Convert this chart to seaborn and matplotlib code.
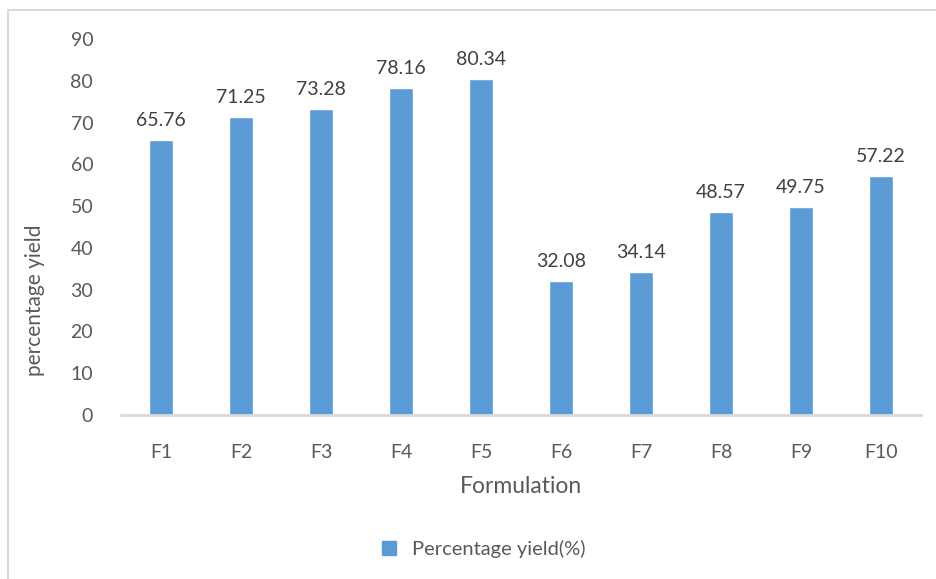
import matplotlib
matplotlib.use("Agg")
import matplotlib.pyplot as plt
import seaborn as sns
import pandas as pd

# data
formulations = ["F1", "F2", "F3", "F4", "F5", "F6", "F7", "F8", "F9", "F10"]
yield_pct = [65.76, 71.25, 73.28, 78.16, 80.34, 32.08, 34.14, 48.57, 49.75, 57.22]
series_name = "Percentage yield(%)"

df = pd.DataFrame({"Formulation": formulations, "yield": yield_pct})

sns.set_style("white")
plt.rcParams["font.family"] = ["Lato", "DejaVu Sans"]
text_color = "#595959"
bar_color = "#5B9BD5"

fig = plt.figure(figsize=(9.36, 5.79), dpi=100)
ax = fig.add_axes([121 / 936, 1 - 415 / 579, 800 / 936, 376 / 579])

sns.barplot(data=df, x="Formulation", y="yield", color=bar_color,
            width=0.31, saturation=1, ax=ax, label=series_name)

ax.bar_label(ax.containers[0], labels=[f"{v:.2f}" for v in yield_pct],
             padding=8, fontsize=14, color="#404040")

ax.set_ylim(0, 90)
ax.set_yticks(range(0, 91, 10))
ax.tick_params(axis="both", length=0, labelsize=14, labelcolor=text_color)
ax.tick_params(axis="y", pad=20)
ax.tick_params(axis="x", pad=21)

ax.set_xlabel("Formulation", fontsize=16.5, color=text_color, labelpad=11)
ax.set_ylabel("percentage yield", fontsize=15, color=text_color)
ax.yaxis.set_label_coords(-76 / 800, (415 - 300) / 376)

sns.despine(ax=ax, left=True)
ax.spines["bottom"].set_color("#D9D9D9")
ax.spines["bottom"].set_linewidth(2)

# chart area border (cropped on right/bottom in the reference)
fig.patches.append(plt.Rectangle((8 / 936, -0.1), 1.2, 1 - 10 / 579 + 0.1,
                                 transform=fig.transFigure, fill=False,
                                 edgecolor="#D9D9D9", linewidth=1.5))

if ax.legend_:
    ax.legend_.remove()
fig.legend(handles=[plt.Rectangle((0, 0), 1, 1, color=bar_color)],
           labels=[series_name], loc="center", bbox_to_anchor=(484 / 936, 1 - 549 / 579),
           frameon=False, fontsize=14.5, labelcolor=text_color,
           handlelength=0.7, handleheight=0.7, handletextpad=0.8)

fig.savefig("out.png", dpi=100)
